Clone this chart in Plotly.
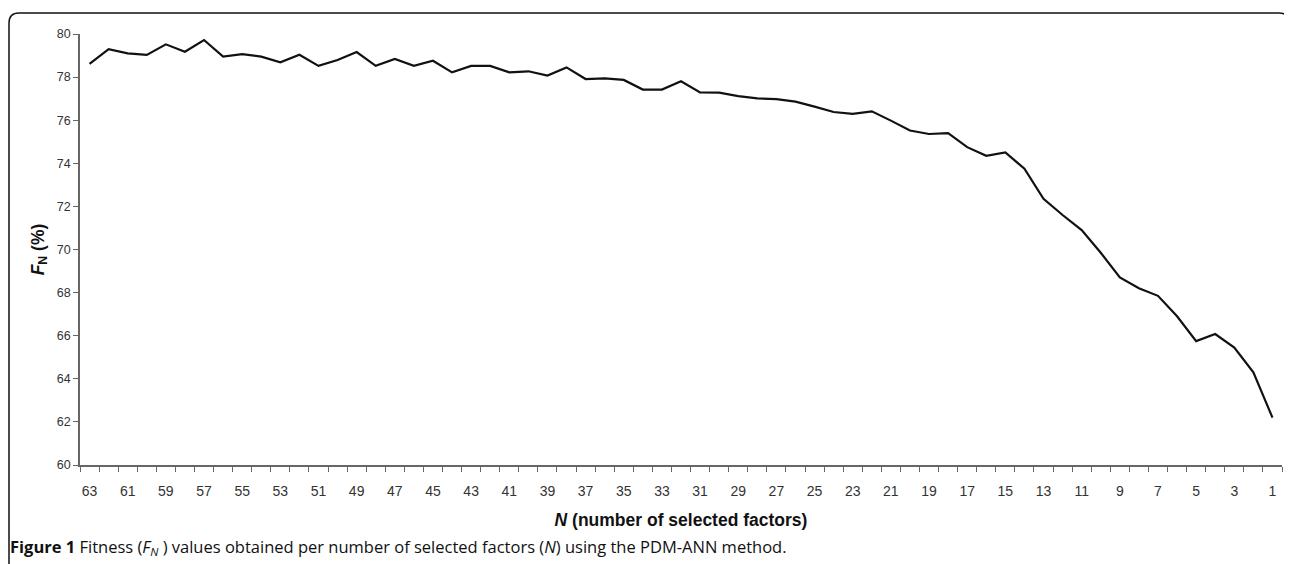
import plotly.graph_objects as go

# Data: number of selected factors (N) and fitness F_N (%)
n_factors = list(range(63, 0, -1))
fitness = [
    78.61, 79.30, 79.10, 79.03, 79.52, 79.18, 79.72, 78.95, 79.07, 78.95,  # 63..54
    78.69, 79.04, 78.52, 78.79, 79.16, 78.52, 78.84, 78.52, 78.76, 78.22,  # 53..44
    78.52, 78.52, 78.22, 78.27, 78.07, 78.45, 77.91, 77.94, 77.87, 77.42,  # 43..34
    77.42, 77.81, 77.29, 77.28, 77.12, 77.01, 76.98, 76.86, 76.63, 76.38,  # 33..24
    76.29, 76.41, 75.98, 75.52, 75.36, 75.40, 74.75, 74.35, 74.50, 73.75,  # 23..14
    72.35, 71.60, 70.90, 69.85, 68.70, 68.20, 67.85, 66.90, 65.75, 66.08,  # 13..4
    65.45, 64.30, 62.20,                                                   # 3..1
]
x_tick_vals = list(range(63, 0, -2))
x_tick_text = [str(v) for v in x_tick_vals]
y_tick_vals = list(range(60, 81, 2))

# the page body adds an 8px offset; figure coordinates are page coordinates - 8
OFF = 8
W, H = 1284, 556
ML, MR, MT, MB = 72, 10, 26, 99
PW, PH = W - ML - MR, H - MT - MB


def px(x_page):
    return (x_page - OFF - ML) / PW


def py(y_page):
    return (H - MB - (y_page - OFF)) / PH


fig = go.Figure()
fig.add_trace(go.Scatter(
    x=n_factors, y=fitness, mode="lines",
    line=dict(color="#111111", width=2.2),
    hoverinfo="x+y", showlegend=False,
))

axis_font = dict(family="Liberation Sans, Arial, sans-serif", size=12.5, color="#333333")

fig.update_layout(
    width=W, height=H,
    margin=dict(l=ML, r=MR, t=MT, b=MB),
    paper_bgcolor="white", plot_bgcolor="white",
    xaxis=dict(
        range=[63.5, 0.5], tickmode="array", tickvals=x_tick_vals, ticktext=x_tick_text,
        ticks="", showgrid=False, zeroline=False,
        showline=True, linecolor="#666666", linewidth=1.5,
        ticklabelstandoff=12,
        tickfont=dict(family="Liberation Sans Narrow, Liberation Sans, Arial, sans-serif", size=14, color="#333333"),
        minor=dict(tick0=0.5, dtick=1, ticks="outside", ticklen=5, tickcolor="#666666", tickwidth=1, showgrid=False),
        title=dict(text="<b><i>N</i> (number of selected factors)</b>",
                   font=dict(family="Liberation Sans, Arial, sans-serif", size=17.5, color="#111111"),
                   standoff=16),
    ),
    yaxis=dict(
        range=[60, 80], tickmode="array", tickvals=y_tick_vals,
        ticks="outside", ticklen=5, tickcolor="#666666", tickwidth=1,
        showgrid=False, zeroline=False,
        showline=True, linecolor="#666666", linewidth=1.5,
        tickfont=axis_font,
        title=dict(text="<b><i>F</i><sub>N</sub> (%)</b>",
                   font=dict(family="Liberation Sans, Arial, sans-serif", size=17.5, color="#111111"),
                   standoff=8),
    ),
)

# Caption
fig.add_annotation(
    xref="paper", yref="paper", x=px(8), y=py(547), xanchor="left", yanchor="middle",
    showarrow=False,
    text="<b>Figure 1</b> Fitness (<i>F</i><sub><i>N</i></sub> ) values obtained per number of selected factors (<i>N</i>) using the PDM-ANN method.",
    font=dict(family="Open Sans, sans-serif", size=16.5, color="#111111"),
)

# Rounded border frame
r = 10
path = (f"M {px(9)},{py(620)} L {px(9)},{py(13 + r)} "
        f"Q {px(9)},{py(13)} {px(9 + r)},{py(13)} "
        f"L {px(1289 - r)},{py(13)} Q {px(1289)},{py(13)} {px(1289)},{py(13 + r)} "
        f"L {px(1289)},{py(620)}")
fig.add_shape(type="path", xref="paper", yref="paper", path=path,
              line=dict(color="#111111", width=1.5), layer="below")

fig.write_html("out.html")
